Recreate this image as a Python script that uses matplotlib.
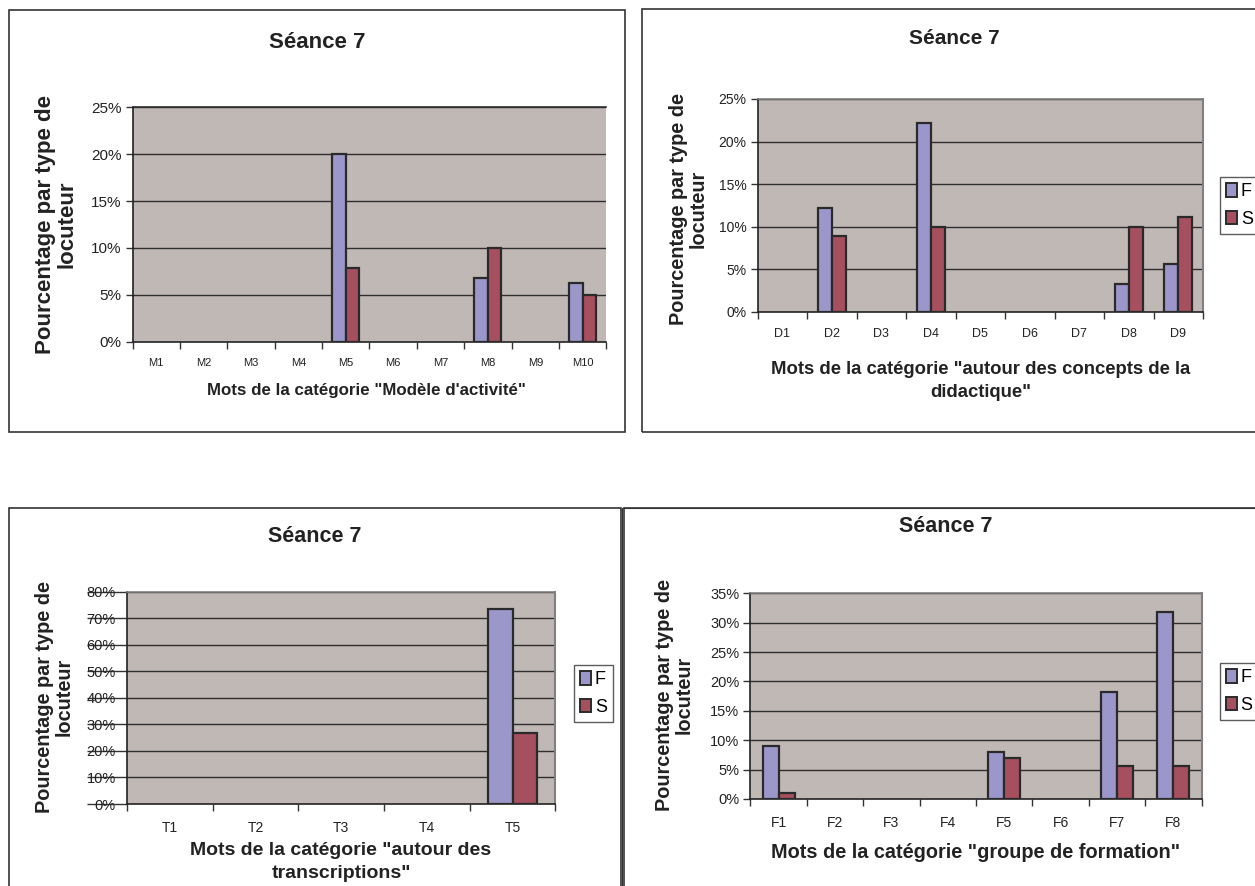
import numpy as np
import matplotlib
matplotlib.use("Agg")
import matplotlib.pyplot as plt
from matplotlib.patches import Rectangle

plt.rcParams['font.family'] = ['Liberation Sans', 'DejaVu Sans']

W, H = 1255, 886

# ---------------- data ----------------
title = "Séance 7"
ylabel = "Pourcentage par type de\nlocuteur"
series_names = ["F", "S"]

cats1 = ["M1", "M2", "M3", "M4", "M5", "M6", "M7", "M8", "M9", "M10"]
f1 = [0, 0, 0, 0, 20.0, 0, 0, 6.8, 0, 6.3]
s1 = [0, 0, 0, 0, 7.9, 0, 0, 10.0, 0, 5.0]
xlabel1 = "Mots de la catégorie \"Modèle d'activité\""

cats2 = ["D1", "D2", "D3", "D4", "D5", "D6", "D7", "D8", "D9"]
f2 = [0, 12.2, 0, 22.2, 0, 0, 0, 3.3, 5.6]
s2 = [0, 8.9, 0, 10.0, 0, 0, 0, 10.0, 11.1]
xlabel2 = "Mots de la catégorie \"autour des concepts de la\ndidactique\""

cats3 = ["T1", "T2", "T3", "T4", "T5"]
f3 = [0, 0, 0, 0, 73.3]
s3 = [0, 0, 0, 0, 26.7]
xlabel3 = "Mots de la catégorie \"autour des\ntranscriptions\""

cats4 = ["F1", "F2", "F3", "F4", "F5", "F6", "F7", "F8"]
f4 = [9.1, 0, 0, 0, 8.0, 0, 18.2, 31.8]
s4 = [1.1, 0, 0, 0, 6.9, 0, 5.7, 5.7]
xlabel4 = "Mots de la catégorie \"groupe de formation\""

# ---------------- style ----------------
COL_F = "#9C97CB"
COL_S = "#A64F5F"
BG = "#C0B8B5"
EDGE = "#2A2A2A"
GRID = "#2E2E2E"
TXT = "#222222"

fig = plt.figure(figsize=(W / 100, H / 100), dpi=100)
fig.patch.set_facecolor("white")


def fx(x):
    return x / W


def fy(y):
    return 1 - y / H


def border(x0, y0, x1, y1, lw=1.2):
    fig.add_artist(Rectangle((fx(x0), fy(y1)), fx(x1) - fx(x0), fy(y0) - fy(y1),
                             transform=fig.transFigure, fill=False,
                             edgecolor="#333333", linewidth=lw, clip_on=False))


def panel(box, cats, fv, sv, ymax, ystep, ytfs, xtfs,
          ttl_pos, ttl_fs, yl_pos, yl_fs, xl_text, xl_pos, xl_fs,
          legend_box=None, right_edge=True, strike=False):
    x0, y0, x1, y1 = box
    ax = fig.add_axes([fx(x0), fy(y1), fx(x1) - fx(x0), fy(y0) - fy(y1)])
    ax.set_facecolor(BG)
    n = len(cats)
    x = np.arange(1, n + 1)
    w = 0.285
    fvals = np.array([v if v > 0 else np.nan for v in fv], dtype=float)
    svals = np.array([v if v > 0 else np.nan for v in sv], dtype=float)
    ax.bar(x - w / 2, fvals, w, color=COL_F, edgecolor=EDGE, linewidth=1.6,
           zorder=3, label=series_names[0])
    ax.bar(x + w / 2, svals, w, color=COL_S, edgecolor=EDGE, linewidth=1.6,
           zorder=3, label=series_names[1])
    ax.set_xlim(0.5, n + 0.5)
    ax.set_ylim(0, ymax)
    yt = np.arange(0, ymax + 0.001, ystep)
    ax.set_yticks(yt)
    ax.set_yticklabels([f"{int(round(v))}%" for v in yt], fontsize=ytfs, color=TXT)
    for v in yt[1:]:
        ax.axhline(v, color=GRID, linewidth=1.0, zorder=1)
    ax.set_xticks(x)
    ax.set_xticklabels(cats, fontsize=xtfs, color=TXT)
    ax.set_xticks(np.arange(0.5, n + 1), minor=True)
    ax.tick_params(axis="x", which="major", length=0, pad=12)
    ax.tick_params(axis="x", which="minor", length=5, width=1, color="#333333", direction="out")
    if strike:
        ax.tick_params(axis="y", length=29, width=1, color="#333333", direction="out", pad=-21)
    else:
        ax.tick_params(axis="y", length=5, width=1, color="#333333", direction="out", pad=3)
    for s in ["left", "bottom"]:
        ax.spines[s].set_color("#222222")
        ax.spines[s].set_linewidth(1.2)
    ax.spines["top"].set_color("#808080")
    ax.spines["top"].set_linewidth(1.2)
    if right_edge:
        ax.spines["right"].set_color("#808080")
        ax.spines["right"].set_linewidth(1.5)
    else:
        ax.spines["right"].set_visible(False)
        ax.spines["top"].set_color(GRID)

    fig.text(fx(ttl_pos[0]), fy(ttl_pos[1]), title, ha="center", va="center",
             fontsize=ttl_fs, fontweight="bold", color=TXT)
    fig.text(fx(yl_pos[0]), fy(yl_pos[1]), ylabel, ha="center", va="center",
             rotation=90, fontsize=yl_fs, fontweight="bold", color=TXT,
             linespacing=1.05)
    fig.text(fx(xl_pos[0]), fy(xl_pos[1]), xl_text, ha="center", va="center",
             fontsize=xl_fs, fontweight="bold", color=TXT, linespacing=1.45)

    if legend_box is not None:
        lx, ly = legend_box
        handles = [Rectangle((0, 0), 1, 1, facecolor=COL_F, edgecolor=EDGE, linewidth=1.4),
                   Rectangle((0, 0), 1, 1, facecolor=COL_S, edgecolor=EDGE, linewidth=1.4)]
        leg = fig.legend(handles, series_names, loc="upper left",
                         bbox_to_anchor=(fx(lx), fy(ly)), bbox_transform=fig.transFigure,
                         fontsize=13, frameon=True, fancybox=False,
                         handlelength=0.6, handleheight=0.75, handletextpad=0.2,
                         labelspacing=0.6, borderpad=0.35, borderaxespad=0)
        leg.get_frame().set_edgecolor("#333333")
        leg.get_frame().set_linewidth(1.0)
    return ax


# panel borders
border(9, 10, 624.5, 432)
border(642, 9, 1262, 432)
border(9, 508, 620.5, 895)
border(623.7, 508, 1262, 895)
border(621.7, 508, 1262, 895, lw=0.8)

panel((132.5, 107.3, 606.4, 341.7), cats1, f1, s1, 25, 5, 11, 8,
      (317, 42), 16, (56, 224), 16, xlabel1, (366, 390), 12.2,
      legend_box=None, right_edge=False)

panel((757.5, 99, 1203, 311.7), cats2, f2, s2, 25, 5, 10, 9,
      (954, 39), 15, (688, 209), 14.3, xlabel2, (981, 381), 13.3,
      legend_box=(1220, 177))

panel((127, 591.7, 555.4, 804), cats3, f3, s3, 80, 10, 10.5, 10,
      (315, 536), 15.5, (54, 697), 14.3, xlabel3, (341, 862), 14,
      legend_box=(574, 665), strike=True)

panel((750.4, 593.3, 1201.6, 799), cats4, f4, s4, 35, 5, 10.5, 10,
      (946, 527), 15.5, (674, 695), 14.3, xlabel4, (976, 852), 14.3,
      legend_box=(1219.5, 663))

fig.savefig("out.png", dpi=100, facecolor="white")
